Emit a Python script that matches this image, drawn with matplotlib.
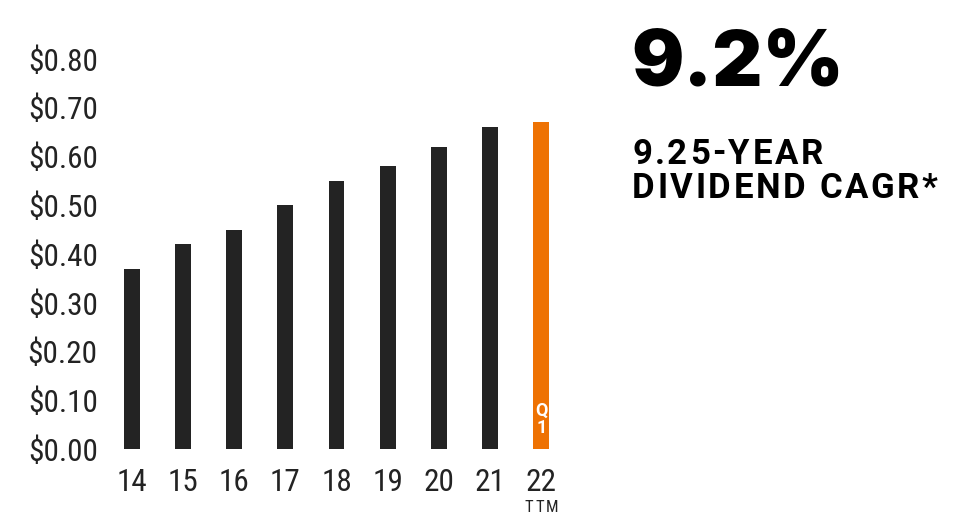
import matplotlib.pyplot as plt
from matplotlib.ticker import FuncFormatter
from matplotlib.transforms import IdentityTransform

# dividend per share by fiscal year (last one is Q1 trailing twelve months)
years = ["14", "15", "16", "17", "18", "19", "20", "21", "22"]
dividends = [0.37, 0.42, 0.45, 0.50, 0.55, 0.58, 0.62, 0.66, 0.67]
y_ticks = [0.0, 0.1, 0.2, 0.3, 0.4, 0.5, 0.6, 0.7, 0.8]
headline = "9.2%"
subhead = ["9.25-YEAR", "DIVIDEND CAGR*"]

dark = "#232323"
orange = "#ee7203"
colors = [dark] * (len(years) - 1) + [orange]

plt.rcParams["font.family"] = ["Roboto Condensed", "Roboto", "DejaVu Sans"]

W, H = 954, 516
fig = plt.figure(figsize=(W / 100, H / 100), dpi=100)
ax = fig.add_axes([106 / W, (H - 449) / H, 461 / W, 390 / H])

x = list(range(len(years)))
ax.bar(x, dividends, width=0.31, color=colors)

ax.set_xlim(-0.5, len(years) - 0.5)
ax.set_ylim(0, 0.8)
ax.set_yticks(y_ticks)
ax.yaxis.set_major_formatter(FuncFormatter(lambda v, _: f"${v:.2f}"))
ax.set_xticks(x)
ax.set_xticklabels(years)
ax.tick_params(axis="y", length=0, pad=6, labelsize=22.5, labelcolor=dark)
ax.tick_params(axis="x", length=0, pad=14, labelsize=22.5, labelcolor=dark)
for s in ax.spines.values():
    s.set_visible(False)


def tracked(x0, y0, s, gap, ha="left", **kw):
    """Write s at pixel (x0, y0 from top) with extra letter spacing."""
    r = fig.canvas.get_renderer()
    parts = []
    for ch in s:
        t = fig.text(0, H - y0, ch, transform=IdentityTransform(),
                     ha="left", va="center", **kw)
        w = t.get_window_extent(r).width
        if ch == " ":
            w = t.get_fontsize() * 0.35
        parts.append((t, w))
    total = sum(w for _, w in parts) + gap * (len(parts) - 1)
    xp = x0 - total / 2 if ha == "center" else x0
    for t, w in parts:
        t.set_x(xp)
        xp += w + gap


# small marks on the last bar
ax.text(x[-1], 0.024, "Q\n1", ha="center", va="bottom", color="white",
        fontsize=13, fontweight="bold", linespacing=0.95, family="Roboto")
bx = ax.transData.transform((x[-1], 0))[0]
tracked(bx, 508, "TTM", 1.8, ha="center", fontsize=12, color=dark)

fig.text(631, H - 65, headline, transform=IdentityTransform(),
         ha="left", va="center", fontsize=56, fontweight="black",
         color="black", family=["Inter", "Roboto"])
for i, line in enumerate(subhead):
    tracked(632, 154 + 34 * i, line, 2.6, fontsize=25, fontweight="bold",
            color="black", family="Roboto")

fig.savefig("out.png", dpi=100)
